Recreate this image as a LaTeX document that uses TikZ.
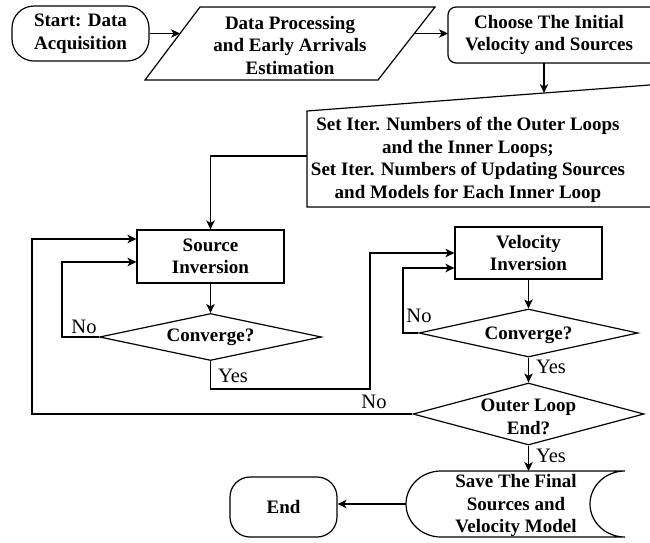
\documentclass[tikz,border=0pt]{standalone}
\usepackage{fontspec}
\setmainfont{Liberation Serif}
\usetikzlibrary{arrows.meta,shapes.geometric}
\begin{document}
\begin{tikzpicture}[x=1pt,y=-1pt,
  line width=1.2pt,
  every node/.style={inner sep=0pt},
  bold/.style={font=\bfseries\fontsize{19}{22.5}\selectfont},
  box/.style={draw, align=center, bold},
  txt/.style={align=center, bold},
  lbl/.style={font=\fontsize{20.5}{22}\selectfont},
  decide/.style={draw, diamond},
  arr/.style={-{Stealth[length=9pt,width=8.5pt,inset=2.5pt]}},
]
\useasboundingbox (0,0) rectangle (650,542);
\clip (0,0) rectangle (650,542);

% --- top row ---------------------------------------------------------
\node[box, rounded corners=22pt, minimum width=137pt, minimum height=55pt]
  (start) at (80.5,33.5) {Start: Data\\Acquisition};

% data processing (parallelogram)
\draw (200,7) -- (435,7) -- (378,80) -- (145,80) -- cycle;
\node[txt] (proc) at (290,45) {Data Processing\\and Early Arrivals\\Estimation};
\coordinate (procW) at (180.0,33.5);
\coordinate (procE) at (414.3,33.5);

% initial model (rounded box running off the right edge)
\draw[rounded corners=8pt] (448,7) rectangle (668,63);
\node[txt] (choose) at (549,35) {Choose The Initial\\Velocity and Sources};
\coordinate (chooseW) at (448,33.5);
\coordinate (chooseS) at (544,63);

% iteration settings (manual input shape)
\draw (660,84.2) -- (307,111) -- (307,207) -- (660,207);
\node[txt] (setup) at (468,160) {Set Iter. Numbers of the Outer Loops\\and the Inner Loops;\\Set Iter. Numbers of Updating Sources\\and Models for Each Inner Loop};
\coordinate (setupN) at (544,93.0);
\coordinate (setupW) at (307,156);

% --- inner loops -----------------------------------------------------
\node[box, minimum width=147pt, minimum height=53pt] (srcinv) at (210.5,256.5) {Source\\Inversion};
\node[decide, minimum width=222pt, minimum height=47pt] (conv1) at (210.5,337) {};
\node[txt] (conv1t) at (210.5,337) {Converge?};

\node[box, minimum width=147pt, minimum height=52pt] (velinv) at (528.5,253) {Velocity\\Inversion};
\node[decide, minimum width=219pt, minimum height=48pt] (conv2) at (528.5,333) {};
\node[txt] (conv2t) at (528.5,335) {Converge?};

\node[decide, minimum width=231pt, minimum height=62pt] (outer) at (528.5,414) {};
\node[txt] (outert) at (528.5,417) {Outer Loop\\End?};

% --- output ----------------------------------------------------------
\draw (441,471) -- (625,471)
  arc[start angle=90, end angle=270, x radius=35pt, y radius=33pt]
  -- (441,537)
  arc[start angle=270, end angle=90, x radius=35pt, y radius=33pt] -- cycle;
\node[txt] (store) at (516,505.5) {Save The Final\\Sources and\\Velocity Model};
\coordinate (storeN) at (528.5,471);
\coordinate (storeW) at (406,504);

\node[box, rounded corners=20pt, minimum width=107pt, minimum height=60pt] (end) at (283.5,507) {End};

% --- connectors ------------------------------------------------------
\draw[arr] (start.east) -- (procW);
\draw[arr] (procE) -- (chooseW);
\draw[arr] (chooseS) -- (setupN);
\draw[arr] (setupW) -| (srcinv.north);
\draw[arr] (srcinv.south) -- (conv1.north);

\coordinate (noA) at (62,337);
\draw[arr] (conv1.west) -- (noA) |- ([yshift=-5.5pt]srcinv.west);

\coordinate (yesA) at (210.5,389);
\coordinate (yesB) at (370,389);
\draw[arr] (conv1.south) -- (yesA) -- (yesB) |- (velinv.west);

\draw[arr] (velinv.south) -- (conv2.north);
\coordinate (noB) at (403,333);
\draw[arr] (conv2.west) -- (noB) |- ([yshift=-15pt]velinv.west);

\draw[arr] (conv2.south) -- (outer.north);

\coordinate (noC) at (32,414);
\draw[arr] (outer.west) -- (noC) |- ([yshift=17.5pt]srcinv.west);

\draw[arr] (outer.south) -- (storeN);
\draw[arr] (storeW) -- (storeW -| end.east);

% --- branch labels ---------------------------------------------------
\node[lbl] (lNo1) at (84,327) {No};
\node[lbl] (lYes1) at (233,376) {Yes};
\node[lbl] (lNo2) at (419,316) {No};
\node[lbl] (lYes2) at (551,367) {Yes};
\node[lbl] (lNo3) at (374,402) {No};
\node[lbl] (lYes3) at (551,456) {Yes};
\end{tikzpicture}
\end{document}
